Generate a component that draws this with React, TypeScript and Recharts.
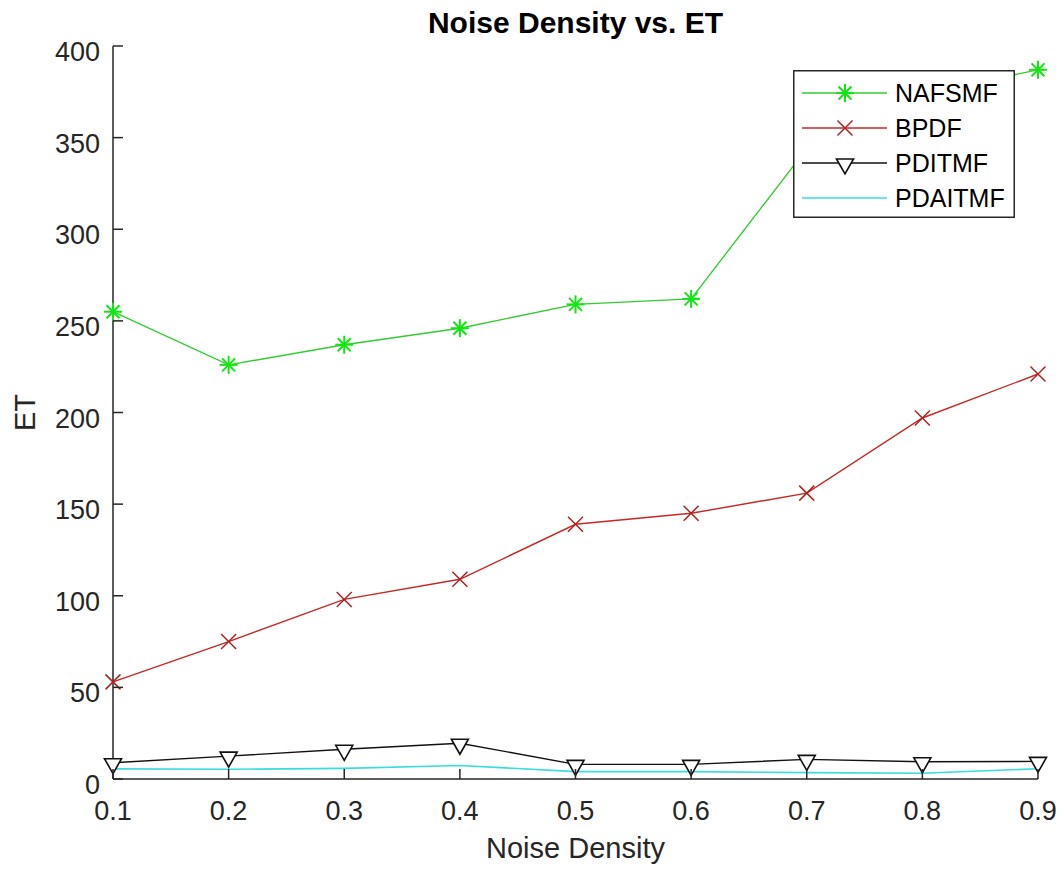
import React from 'react';
import { LineChart, Line, XAxis, YAxis, Legend, Label } from 'recharts';

const noiseDensity = [0.1, 0.2, 0.3, 0.4, 0.5, 0.6, 0.7, 0.8, 0.9];
const nafsmf = [255, 226, 237, 246, 259, 262, 344, 374, 387];
const bpdf = [53, 75, 98, 109, 139, 145, 156, 197, 221];
const pditmf = [8.9, 12.5, 16.2, 19.5, 8, 8, 10.7, 9.4, 9.6];
const pdaitmf = [5.5, 5.3, 5.8, 7.4, 4, 4, 3.5, 3.1, 5.6];
const seriesNames = ['NAFSMF', 'BPDF', 'PDITMF', 'PDAITMF'];
const xTicks = [0.1, 0.2, 0.3, 0.4, 0.5, 0.6, 0.7, 0.8, 0.9];
const yTicks = [0, 50, 100, 150, 200, 250, 300, 350, 400];
const titleText = 'Noise Density vs. ET';
const xLabelText = 'Noise Density';
const yLabelText = 'ET';

const data = noiseDensity.map((x, i) => ({
  x,
  NAFSMF: nafsmf[i],
  BPDF: bpdf[i],
  PDITMF: pditmf[i],
  PDAITMF: pdaitmf[i],
}));

const FONT = '"Liberation Sans", Arial, Helvetica, sans-serif';
const AX = '#262626';
const TL = 10;
const PLOT_W = 925;
const GREEN_LINE = '#33cc33';
const GREEN_MARK = '#11e611';
const RED_LINE = '#c82828';
const RED_MARK = '#b02020';
const BLACK = '#111111';
const CYAN = '#3adcdc';

const Star = ({ cx, cy, r = 9, color = GREEN_MARK }: any) => {
  const d = r * 0.72;
  return (
    <g stroke={color} strokeWidth={2} fill="none">
      <line x1={cx - r} y1={cy} x2={cx + r} y2={cy} />
      <line x1={cx} y1={cy - r} x2={cx} y2={cy + r} />
      <line x1={cx - d} y1={cy - d} x2={cx + d} y2={cy + d} />
      <line x1={cx - d} y1={cy + d} x2={cx + d} y2={cy - d} />
    </g>
  );
};

const Cross = ({ cx, cy, r = 7.5, color = RED_MARK }: any) => (
  <g stroke={color} strokeWidth={1.5} fill="none">
    <line x1={cx - r} y1={cy - r} x2={cx + r} y2={cy + r} />
    <line x1={cx - r} y1={cy + r} x2={cx + r} y2={cy - r} />
  </g>
);

const Tri = ({ cx, cy, color = BLACK }: any) => (
  <path
    d={`M${cx - 8.5},${cy - 4} L${cx + 8.5},${cy - 4} L${cx},${cy + 11} Z`}
    stroke={color}
    strokeWidth={1.6}
    fill="#ffffff"
  />
);

const starDot = (p: any) =>
  p.cx == null ? null : <Star key={`st-${p.index}`} cx={p.cx} cy={p.cy} />;
const crossDot = (p: any) =>
  p.cx == null ? null : <Cross key={`cr-${p.index}`} cx={p.cx} cy={p.cy} />;
const triDot = (p: any) =>
  p.cx == null ? null : <Tri key={`tr-${p.index}`} cx={p.cx} cy={p.cy} />;

const BottomTick = (props: any) => {
  const { x, y, payload } = props;
  return (
    <g>
      <line x1={x} y1={y} x2={x} y2={y - TL} stroke={AX} strokeWidth={1.5} />
      <text x={x} y={y + 41} textAnchor="middle" fontSize={27} fill={AX} fontFamily={FONT}>
        {Number(payload.value).toFixed(1)}
      </text>
    </g>
  );
};

const TopTick = (props: any) => {
  const { x, y } = props;
  return <line x1={x} y1={y} x2={x} y2={y + TL} stroke={AX} strokeWidth={1.5} />;
};

const LeftTick = (props: any) => {
  const { x, y, payload } = props;
  return (
    <g>
      <line x1={x} y1={y} x2={x + TL} y2={y} stroke={AX} strokeWidth={1.5} />
      <text x={x - 13} y={y + 15} textAnchor="end" fontSize={27} fill={AX} fontFamily={FONT}>
        {payload.value}
      </text>
    </g>
  );
};

const RightTick = (props: any) => {
  const { x, y } = props;
  return <line x1={x} y1={y} x2={x - TL} y2={y} stroke={AX} strokeWidth={1.5} />;
};

const renderXLabel = (p: any) => {
  const vb = p.viewBox || {};
  return (
    <text x={vb.x + vb.width / 2} y={vb.y + 79} textAnchor="middle" fontSize={29} fill={AX} fontFamily={FONT}>
      {xLabelText}
    </text>
  );
};

const renderYLabelAndTitle = (p: any) => {
  const vb = p.viewBox || {};
  const cx = vb.x + 25;
  const cy = vb.y + vb.height / 2;
  const tx = vb.x + vb.width + PLOT_W / 2;
  return (
    <g>
      <text
        x={cx}
        y={cy}
        transform={`rotate(-90 ${cx} ${cy})`}
        textAnchor="middle"
        dominantBaseline="central"
        fontSize={29}
        fill={AX}
        fontFamily={FONT}
      >
        {yLabelText}
      </text>
      <text x={tx} y={vb.y - 13} textAnchor="middle" fontSize={30} fontWeight="bold" fill="#000" fontFamily={FONT}>
        {titleText}
      </text>
    </g>
  );
};

const renderLegend = () => {
  const rows = [
    { name: seriesNames[0], color: GREEN_LINE, mark: 'star' },
    { name: seriesNames[1], color: RED_LINE, mark: 'cross' },
    { name: seriesNames[2], color: BLACK, mark: 'tri' },
    { name: seriesNames[3], color: CYAN, mark: 'none' },
  ];
  return (
    <svg width={222} height={148} style={{ display: 'block' }}>
      <rect x={0.75} y={0.75} width={220.5} height={146.5} fill="#ffffff" stroke={AX} strokeWidth={1.5} />
      {rows.map((r, i) => {
        const cy = 23 + i * 35;
        return (
          <g key={r.name}>
            <line x1={9} y1={cy} x2={94} y2={cy} stroke={r.color} strokeWidth={1.5} />
            {r.mark === 'star' && <Star cx={52} cy={cy} />}
            {r.mark === 'cross' && <Cross cx={52} cy={cy} />}
            {r.mark === 'tri' && <Tri cx={52} cy={cy} />}
            <text x={102} y={cy + 9} fontSize={25} fill="#000" fontFamily={FONT}>
              {r.name}
            </text>
          </g>
        );
      })}
    </svg>
  );
};

export default function App() {
  return (
    <div style={{ position: 'absolute', left: 0, top: 0, width: 1064, height: 870, background: '#ffffff' }}>
      <LineChart width={1064} height={870} data={data} margin={{ top: 46, right: 26, bottom: 0, left: 0 }}>
        <XAxis
          xAxisId="bottom"
          dataKey="x"
          type="number"
          domain={[0.1, 0.9]}
          ticks={xTicks}
          interval={0}
          height={91}
          tickSize={0}
          tickMargin={0}
          tickLine={false}
          tick={BottomTick}
          axisLine={{ stroke: AX, strokeWidth: 1.5 }}
        >
          <Label content={renderXLabel} />
        </XAxis>
        <XAxis
          xAxisId="top"
          orientation="top"
          dataKey="x"
          type="number"
          domain={[0.1, 0.9]}
          ticks={xTicks}
          interval={0}
          height={0}
          tickSize={0}
          tickMargin={0}
          tickLine={false}
          tick={TopTick}
          axisLine={{ stroke: AX, strokeWidth: 1.5 }}
        />
        <YAxis
          yAxisId="left"
          type="number"
          domain={[0, 400]}
          ticks={yTicks}
          interval={0}
          width={113}
          tickSize={0}
          tickMargin={0}
          tickLine={false}
          tick={LeftTick}
          axisLine={{ stroke: AX, strokeWidth: 1.5 }}
        >
          <Label content={renderYLabelAndTitle} />
        </YAxis>
        <YAxis
          yAxisId="right"
          orientation="right"
          type="number"
          domain={[0, 400]}
          ticks={yTicks}
          interval={0}
          width={0}
          tickSize={0}
          tickMargin={0}
          tickLine={false}
          tick={RightTick}
          axisLine={{ stroke: AX, strokeWidth: 1.5 }}
        />
        <Line xAxisId="bottom" yAxisId="left" type="linear" dataKey="NAFSMF" stroke={GREEN_LINE} strokeWidth={1.4} dot={starDot} activeDot={false} isAnimationActive={false} />
        <Line xAxisId="bottom" yAxisId="left" type="linear" dataKey="BPDF" stroke={RED_LINE} strokeWidth={1.4} dot={crossDot} activeDot={false} isAnimationActive={false} />
        <Line xAxisId="bottom" yAxisId="left" type="linear" dataKey="PDITMF" stroke={BLACK} strokeWidth={1.4} dot={triDot} activeDot={false} isAnimationActive={false} />
        <Line xAxisId="bottom" yAxisId="left" type="linear" dataKey="PDAITMF" stroke={CYAN} strokeWidth={1.6} dot={false} activeDot={false} isAnimationActive={false} />
        <Legend
          layout="vertical"
          align="center"
          verticalAlign="middle"
          wrapperStyle={{ left: 793, top: 70, width: 222, height: 148 }}
          content={renderLegend}
        />
      </LineChart>
    </div>
  );
}
